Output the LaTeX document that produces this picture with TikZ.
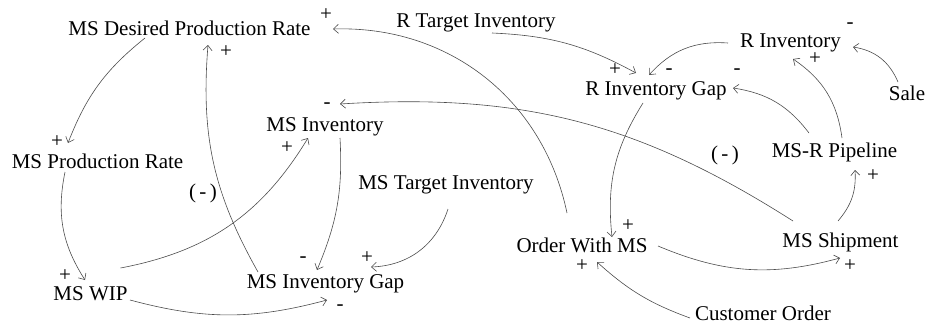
\documentclass[tikz,border=0pt]{standalone}
\usepackage{fontspec}
\setmainfont{Liberation Serif}
\usetikzlibrary{arrows.meta}
\begin{document}
\begin{tikzpicture}[x=1pt,y=-1pt,
  var/.style={inner sep=1pt, text height=14.7pt, text depth=4.2pt, font=\fontsize{21}{24}\selectfont, text=black},
  pol/.style={inner sep=0pt, font=\fontsize{21}{24}\selectfont},
  link/.style={draw=black!70, line width=0.6pt, -{Straight Barb[length=5pt,width=9pt]}}]
\useasboundingbox (0,0) rectangle (927,324);
% variables
\node[var] (dpr) at (189.5,30) {MS Desired Production Rate};
\node[var] (rti) at (476,22) {R Target Inventory};
\node[var] (rinv) at (790.5,42) {R Inventory};
\node[var] (sale) at (907,95) {Sale};
\node[var] (rgap) at (656,90) {R Inventory Gap};
\node[var] (pipe) at (834.5,152) {MS-R Pipeline};
\node[var] (msinv) at (325,126) {MS Inventory};
\node[var] (pr) at (97.5,163) {MS Production Rate};
\node[var] (mti) at (446,184) {MS Target Inventory};
\node[var] (wip) at (90.5,295) {MS WIP};
\node[var] (gap) at (325.5,283) {MS Inventory Gap};
\node[var] (order) at (582,247) {Order With MS};
\node[var] (ship) at (840.5,242) {MS Shipment};
\node[var] (cust) at (763,315) {Customer Order};
% links
\draw[link] ([shift={(-44.5,8)}]dpr.center) to[bend right=15] ([shift={(-29.5,-20)}]pr.center);
\draw[link] ([shift={(-32.5,9)}]pr.center) to[bend right=22] ([shift={(-5.5,-15)}]wip.center);
\draw[link] ([shift={(30,-27)}]wip.center) to[bend right=24] ([shift={(-17,12)}]msinv.center);
\draw[link] ([shift={(39.5,5)}]wip.center) to[bend right=15] ([shift={(1.5,17)}]gap.center);
\draw[link] ([shift={(15,12)}]msinv.center) to[bend left=13] ([shift={(-8.5,-13)}]gap.center);
\draw[link] ([shift={(2,25)}]mti.center) to[bend left=35] ([shift={(45.5,-16)}]gap.center);
\draw[link] ([shift={(-67.5,-11)}]gap.center) to[bend left=17] ([shift={(18.5,15)}]dpr.center);
\draw[link] ([shift={(-15,-34)}]order.center) to[bend right=40] ([shift={(143.5,-1)}]dpr.center);
\draw[link] ([shift={(16,11)}]rti.center) to[bend left=13] ([shift={(-20,-17)}]rgap.center);
\draw[link] ([shift={(-62.5,1)}]rinv.center) to[bend right=26] ([shift={(-7,-15)}]rgap.center);
\draw[link] ([shift={(-9,-13)}]sale.center) to[bend right=29] ([shift={(62.5,5)}]rinv.center);
\draw[link] ([shift={(7.5,-14)}]pipe.center) to[bend right=24] ([shift={(2.5,17)}]rinv.center);
\draw[link] ([shift={(-25.5,-19)}]pipe.center) to[bend right=22] ([shift={(77,-2)}]rgap.center);
\draw[link] ([shift={(-13,13)}]rgap.center) to[bend right=19] ([shift={(30,-10)}]order.center);
\draw[link] ([shift={(-47.5,-21)}]ship.center) to[bend right=18] ([shift={(15,-22)}]msinv.center);
\draw[link] ([shift={(-2.5,-21)}]ship.center) to[bend right=22] ([shift={(20.5,18)}]pipe.center);
\draw[link] ([shift={(76,-1)}]order.center) to[bend right=19] ([shift={(-0.5,16)}]ship.center);
\draw[link] ([shift={(-73,3)}]cust.center) to[bend left=11] ([shift={(15,15)}]order.center);
% polarities
\node[pol] (p1) at (326,15) {+};
\node[pol] (p2) at (226,52) {+};
\node[pol] (p3) at (57,142) {+};
\node[pol] (p4) at (327,106) {-};
\node[pol] (p5) at (287,148) {+};
\node[pol] (p6) at (203,193) {(\,-\,)};
\node[pol] (p7) at (65,276) {+};
\node[pol] (p8) at (303,260) {-};
\node[pol] (p9) at (367,258) {+};
\node[pol] (p10) at (340,308) {-};
\node[pol] (p11) at (615,70) {+};
\node[pol] (p12) at (669,72) {-};
\node[pol] (p13) at (737,72) {-};
\node[pol] (p14) at (850,26) {-};
\node[pol] (p15) at (815,59) {+};
\node[pol] (p16) at (725,155) {(\,-\,)};
\node[pol] (p17) at (873,176) {+};
\node[pol] (p18) at (628,226) {+};
\node[pol] (p19) at (582,266) {+};
\node[pol] (p20) at (850,266) {+};
\end{tikzpicture}
\end{document}
